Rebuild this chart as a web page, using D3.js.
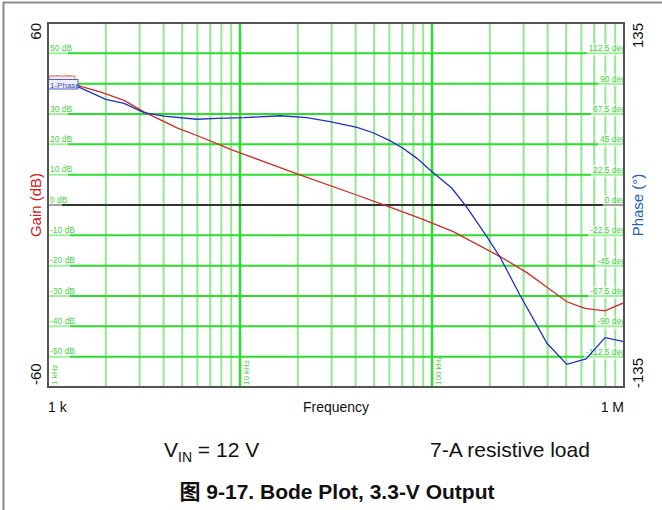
<!DOCTYPE html>
<html>
<head>
<meta charset="utf-8">
<script src="https://cdn.jsdelivr.net/npm/d3@7/dist/d3.min.js"></script>
<style>
  html, body { margin: 0; padding: 0; background: #fff; }
  svg { display: block; }
  text { font-family: "Liberation Sans", Arial, "Noto Sans CJK SC", sans-serif; }
</style>
</head>
<body>
<svg id="chart" width="662" height="510"></svg>
<script>
// Loop gain measurement, frequency in kHz
const gainFreq = [1.0, 1.42, 1.87, 2.49, 3.16, 4.7, 6.2, 7.86, 8.87, 10.5, 20, 40.5, 58, 87, 129, 226, 312, 397, 504, 626, 796, 1000];
const gainDb   = [40.5, 39.4, 37.3, 34.5, 30.7, 25.4, 22.5, 19.8, 18.4, 16.7, 10.2, 3.3, -0.3, -4.4, -8.8, -17.0, -22.3, -27.1, -31.9, -34.1, -34.9, -32.2];

// Phase measurement, frequency in kHz
const phaseFreq = [1.0, 1.42, 2.0, 2.49, 3.16, 4.02, 5.97, 7.59, 10.5, 16.2, 22.3, 29.4, 40.7, 49.3, 60.4, 70.6, 83.5, 97.7, 127, 152, 193, 226, 287, 397, 504, 634, 796, 1000];
const phaseDeg  = [89.8, 87.9, 78.4, 75.4, 68.5, 66.0, 63.6, 64.3, 64.8, 66.2, 64.8, 61.8, 57.6, 53.6, 47.7, 42.1, 34.6, 26.0, 12.4, -1.7, -23.5, -38.6, -66.8, -102.6, -118.2, -114.2, -98.4, -101.4];

// Grid labels
const gainTicks  = [50, 40, 30, 20, 10, 0, -10, -20, -30, -40, -50];
const phaseTicks = [112.5, 90, 67.5, 45, 22.5, 0, -22.5, -45, -67.5, -90, -112.5];
const decadeLabels = [{f: 1, t: "1 kHz"}, {f: 10, t: "10 kHz"}, {f: 100, t: "100 kHz"}];

const svg = d3.select("#chart");
const L = 48, R = 624, T = 23, B = 387;

const x = d3.scaleLog().domain([1, 1000]).range([L, R]);
const yG = d3.scaleLinear().domain([-60, 60]).range([B, T]);
const yP = d3.scaleLinear().domain([-135, 135]).range([B, T]);

// Outer frame (top and left edges)
svg.append("line").attr("x1", 3).attr("x2", 662).attr("y1", 2.5).attr("y2", 2.5)
  .attr("stroke", "#8a8a8a").attr("stroke-width", 2);
svg.append("line").attr("x1", 3.5).attr("x2", 3.5).attr("y1", 2).attr("y2", 510)
  .attr("stroke", "#8a8a8a").attr("stroke-width", 2);

svg.append("defs").append("clipPath").attr("id", "plotClip")
  .append("rect").attr("x", L).attr("y", T).attr("width", R - L).attr("height", B - T);

const plot = svg.append("g").attr("clip-path", "url(#plotClip)");

// Vertical grid: minor lines then decades
const minors = [];
[1, 10, 100].forEach(d => { for (let k = 2; k <= 9; k++) minors.push(d * k); });
plot.selectAll(".vminor").data(minors).enter().append("line")
  .attr("x1", d => x(d)).attr("x2", d => x(d)).attr("y1", T).attr("y2", B)
  .attr("stroke", "#95e595").attr("stroke-width", 2);
plot.selectAll(".vmajor").data([10, 100]).enter().append("line")
  .attr("x1", d => x(d)).attr("x2", d => x(d)).attr("y1", T).attr("y2", B)
  .attr("stroke", "#2ade2a").attr("stroke-width", 2.5);

// Horizontal grid
plot.selectAll(".hgrid").data(gainTicks.filter(d => d !== 0)).enter().append("line")
  .attr("x1", L).attr("x2", R).attr("y1", d => yG(d)).attr("y2", d => yG(d))
  .attr("stroke", "#2ade2a").attr("stroke-width", 2);
plot.append("line").attr("x1", L).attr("x2", R).attr("y1", yG(0)).attr("y2", yG(0))
  .attr("stroke", "#333").attr("stroke-width", 2);

// Gain grid labels on the left
const gl = plot.selectAll(".glab").data(gainTicks).enter().append("g");
gl.append("rect")
  .attr("x", L).attr("y", d => yG(d) - 10)
  .attr("width", d => (d < 0 ? 22 : d === 0 ? 14 : 20)).attr("height", 12)
  .attr("fill", "#fff").attr("opacity", 0.55);
gl.append("text")
  .attr("x", L + 2).attr("y", d => yG(d) - 2.5)
  .attr("font-size", 8.5).attr("fill", "#44d444")
  .text(d => d + " dB");

// Phase grid labels on the right
const pl = plot.selectAll(".plab").data(phaseTicks).enter().append("g");
pl.append("text")
  .attr("x", R + 2).attr("y", d => yP(d) - 2)
  .attr("text-anchor", "end")
  .attr("font-size", 8.5).attr("fill", "#44d444")
  .text(d => d + " deg")
  .each(function () {
    const bb = this.getBBox();
    d3.select(this.parentNode).insert("rect", "text")
      .attr("x", bb.x - 2).attr("y", bb.y).attr("width", R - bb.x + 2).attr("height", bb.height + 3)
      .attr("fill", "#fff").attr("opacity", 0.55);
  });

// Decade labels, rotated, near the bottom
plot.selectAll(".dlab").data(decadeLabels).enter().append("text")
  .attr("transform", d => `translate(${x(d.f) + 9},${B - 2}) rotate(-90)`)
  .attr("font-size", 8).attr("fill", "#44d444")
  .text(d => d.t);

// Curves
const gainLine = d3.line().x(d => x(d[0])).y(d => yG(d[1]));
const phaseLine = d3.line().x(d => x(d[0])).y(d => yP(d[1]));
plot.append("path").datum(d3.zip(gainFreq, gainDb)).attr("d", gainLine)
  .attr("fill", "none").attr("stroke", "#d42a2a").attr("stroke-width", 1.3);
plot.append("path").datum(d3.zip(phaseFreq, phaseDeg)).attr("d", phaseLine)
  .attr("fill", "none").attr("stroke", "#1f2fc8").attr("stroke-width", 1.3);

// Trace tags
const tags = svg.append("g");
tags.append("rect").attr("x", L + 1).attr("y", 76).attr("width", 26).attr("height", 7)
  .attr("fill", "#fbeaea").attr("stroke", "#e07070").attr("stroke-width", 1);
tags.append("rect").attr("x", L + 0.5).attr("y", 79.5).attr("width", 29.5).attr("height", 9.5)
  .attr("fill", "#eef0fb").attr("stroke", "#5060d0").attr("stroke-width", 1);
tags.append("text").attr("x", L + 2).attr("y", 87.8).attr("font-size", 8)
  .attr("fill", "#3a4ac8").text("1-Phase");

// Plot frame
svg.append("rect").attr("x", L).attr("y", T).attr("width", R - L).attr("height", B - T)
  .attr("fill", "none").attr("stroke", "#555").attr("stroke-width", 2);

// Axis end values and titles
const vLabel = (tx, ty, txt, anchor, color) =>
  svg.append("text").attr("transform", `translate(${tx},${ty}) rotate(-90)`)
    .attr("text-anchor", anchor).attr("font-size", 15).attr("fill", color).text(txt);

vLabel(41, yG(60), "60", "end", "#111");
vLabel(41, yG(-60) - 2, "-60", "start", "#111");
vLabel(41, (T + B) / 2, "Gain (dB)", "middle", "#d02020");
vLabel(643, yP(135), "135", "end", "#111");
vLabel(643, yP(-135) + 1, "-135", "start", "#111");
vLabel(643, (T + B) / 2, "Phase (°)", "middle", "#2060b8");

svg.append("text").attr("x", L).attr("y", 412).attr("font-size", 14).attr("fill", "#111").text("1 k");
svg.append("text").attr("x", (L + R) / 2).attr("y", 412).attr("text-anchor", "middle")
  .attr("font-size", 14).attr("fill", "#111").text("Frequency");
svg.append("text").attr("x", R).attr("y", 412).attr("text-anchor", "end")
  .attr("font-size", 14).attr("fill", "#111").text("1 M");

// Test conditions
const cond = svg.append("text").attr("x", 164).attr("y", 457).attr("font-size", 21).attr("fill", "#111");
cond.append("tspan").text("V");
cond.append("tspan").attr("font-size", 14).attr("dy", 5).text("IN");
cond.append("tspan").attr("dy", -5).text(" = 12 V");
svg.append("text").attr("x", 430).attr("y", 457).attr("font-size", 21).attr("fill", "#111")
  .text("7-A resistive load");

// Caption
svg.append("text").attr("x", 337).attr("y", 499).attr("text-anchor", "middle")
  .attr("font-size", 21).attr("font-weight", "bold").attr("fill", "#111")
  .text("图 9-17. Bode Plot, 3.3-V Output");
</script>
</body>
</html>
